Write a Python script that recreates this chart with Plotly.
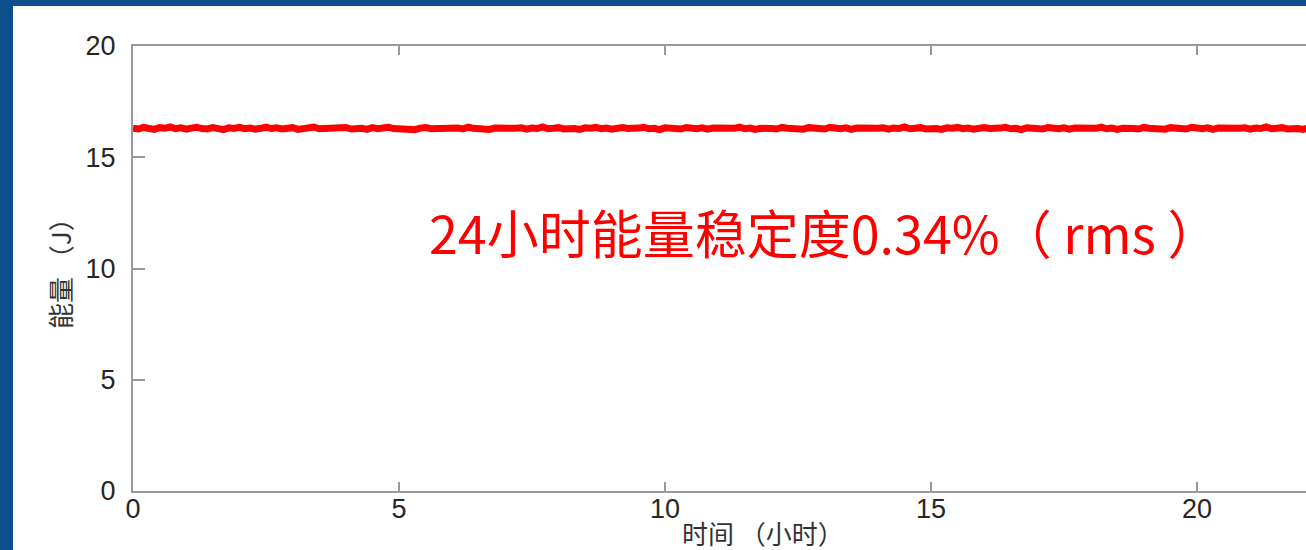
import plotly.graph_objects as go

energy_j = [
    16.31, 16.27, 16.34, 16.29, 16.25, 16.33, 16.30, 16.36, 16.28, 16.32,
    16.26, 16.31, 16.35, 16.29, 16.27, 16.33, 16.30, 16.24, 16.32, 16.29,
    16.34, 16.28, 16.31, 16.26, 16.30, 16.35, 16.29, 16.32, 16.27, 16.30,
    16.33, 16.25, 16.31, 16.29, 16.36, 16.28, 16.30, 16.26, 16.32, 16.29,
    16.34, 16.27, 16.31, 16.30, 16.25, 16.33, 16.28, 16.31, 16.35, 16.29,
    16.27, 16.32, 16.30, 16.24, 16.31, 16.34, 16.28, 16.30, 16.26, 16.33,
    16.29, 16.31, 16.27, 16.35, 16.30, 16.28, 16.32, 16.25, 16.31, 16.29,
    16.34, 16.27, 16.30, 16.32, 16.26, 16.31, 16.29, 16.36, 16.28, 16.30,
    16.33, 16.27, 16.31, 16.29, 16.25, 16.32, 16.30, 16.34, 16.28, 16.31,
    16.26, 16.30, 16.33, 16.29, 16.27, 16.31, 16.35, 16.28, 16.30, 16.24,
    16.32, 16.29, 16.31, 16.27, 16.34, 16.30, 16.28, 16.32, 16.26, 16.31,
    16.29, 16.33, 16.27, 16.30, 16.35, 16.28, 16.31, 16.25, 16.30, 16.32,
    16.29, 16.27, 16.34, 16.30, 16.28, 16.31, 16.26, 16.33, 16.29, 16.31,
    16.27, 16.35, 16.30, 16.28, 16.32, 16.25, 16.31, 16.29, 16.34, 16.27,
    16.30, 16.32, 16.26, 16.31, 16.29, 16.36, 16.28, 16.30, 16.33, 16.27,
    16.31, 16.29, 16.25, 16.32, 16.30, 16.34, 16.28, 16.31, 16.26, 16.30,
    16.33, 16.29, 16.27, 16.31, 16.35, 16.28, 16.30, 16.24, 16.32, 16.29,
    16.31, 16.27, 16.34, 16.30, 16.28, 16.32, 16.26, 16.31, 16.29, 16.33,
    16.27, 16.30, 16.35, 16.28, 16.31, 16.25, 16.30, 16.32, 16.29, 16.27,
    16.34, 16.30, 16.28, 16.31, 16.26, 16.33, 16.29, 16.31, 16.27, 16.35,
    16.30, 16.28, 16.32, 16.25, 16.31, 16.29, 16.34, 16.27, 16.30, 16.32,
    16.26, 16.31, 16.29, 16.36, 16.28, 16.30, 16.33, 16.27, 16.31, 16.29,
    16.25, 16.32, 16.30, 16.34, 16.28, 16.31, 16.26, 16.30, 16.33, 16.29,
    16.27, 16.31, 16.35, 16.28, 16.30, 16.24, 16.32, 16.29, 16.31, 16.30,
]
time_h = [round(i * 0.1, 1) for i in range(len(energy_j))]
x_ticks = [0, 5, 10, 15, 20]
y_ticks = [0, 5, 10, 15, 20]
annotation_text = "24小时能量稳定度0.34%（ rms ）"
x_title = "时间 （小时）"
y_title = "能量 （J）"

W, H = 1306, 550
L, T, B = 133, 46, 59
plot_w = W - L
plot_h = H - T - B
x_per_px = 5 / 266.0  # 5 hours per 266 px

fig = go.Figure()
fig.add_trace(go.Scatter(
    x=time_h, y=energy_j, mode="lines",
    line=dict(color="#ff0000", width=7),
    hoverinfo="skip", showlegend=False,
))

tick_font = dict(family="Liberation Sans, Arial, sans-serif", size=27, color="#262626")
title_font = dict(family="Noto Sans CJK SC, sans-serif", size=26, color="#333333")

fig.update_layout(
    width=W, height=H,
    margin=dict(l=L, r=0, t=T, b=B, pad=0),
    paper_bgcolor="#0e4f8b",
    plot_bgcolor="white",
    showlegend=False,
    shapes=[dict(
        type="rect", xref="paper", yref="paper",
        x0=(13 - L) / plot_w, x1=1.01,
        y0=-(B + 5) / plot_h, y1=(plot_h + T - 6) / plot_h,
        fillcolor="white", line=dict(width=0), layer="below",
    )],
    xaxis=dict(
        range=[0, plot_w * x_per_px],
        tickvals=x_ticks, ticktext=[str(v) for v in x_ticks],
        ticks="inside", ticklen=9, tickwidth=1.5, tickcolor="#999999",
        showline=True, linecolor="#999999", linewidth=2, mirror="ticks",
        showgrid=False, zeroline=False, tickfont=tick_font,
        ticklabelstandoff=-7,
    ),
    yaxis=dict(
        range=[0, 20],
        tickvals=y_ticks, ticktext=[str(v) for v in y_ticks],
        ticks="inside", ticklen=12, tickwidth=1.5, tickcolor="#999999",
        showline=True, linecolor="#999999", linewidth=2,
        showgrid=False, zeroline=False, tickfont=tick_font,
        ticklabelstandoff=10,
    ),
    annotations=[
        dict(text=annotation_text, x=(824 - L) * x_per_px, y=(H - B - 231) / (plot_h / 20),
             xref="x", yref="y", showarrow=False, xanchor="center", yanchor="middle",
             font=dict(family="Noto Sans CJK SC, sans-serif", size=52, color="#ff0000")),
        dict(text=x_title, x=(763 - L) * x_per_px, y=-(532 - (H - B)) / plot_h,
             xref="x", yref="paper", showarrow=False, xanchor="center", yanchor="middle",
             font=title_font),
        dict(text=y_title, x=(59 - L) / plot_w, y=(H - B - 267) / plot_h,
             xref="paper", yref="paper", showarrow=False, textangle=-90,
             xanchor="center", yanchor="middle", font=title_font),
    ],
)

fig.write_html("out.html")
